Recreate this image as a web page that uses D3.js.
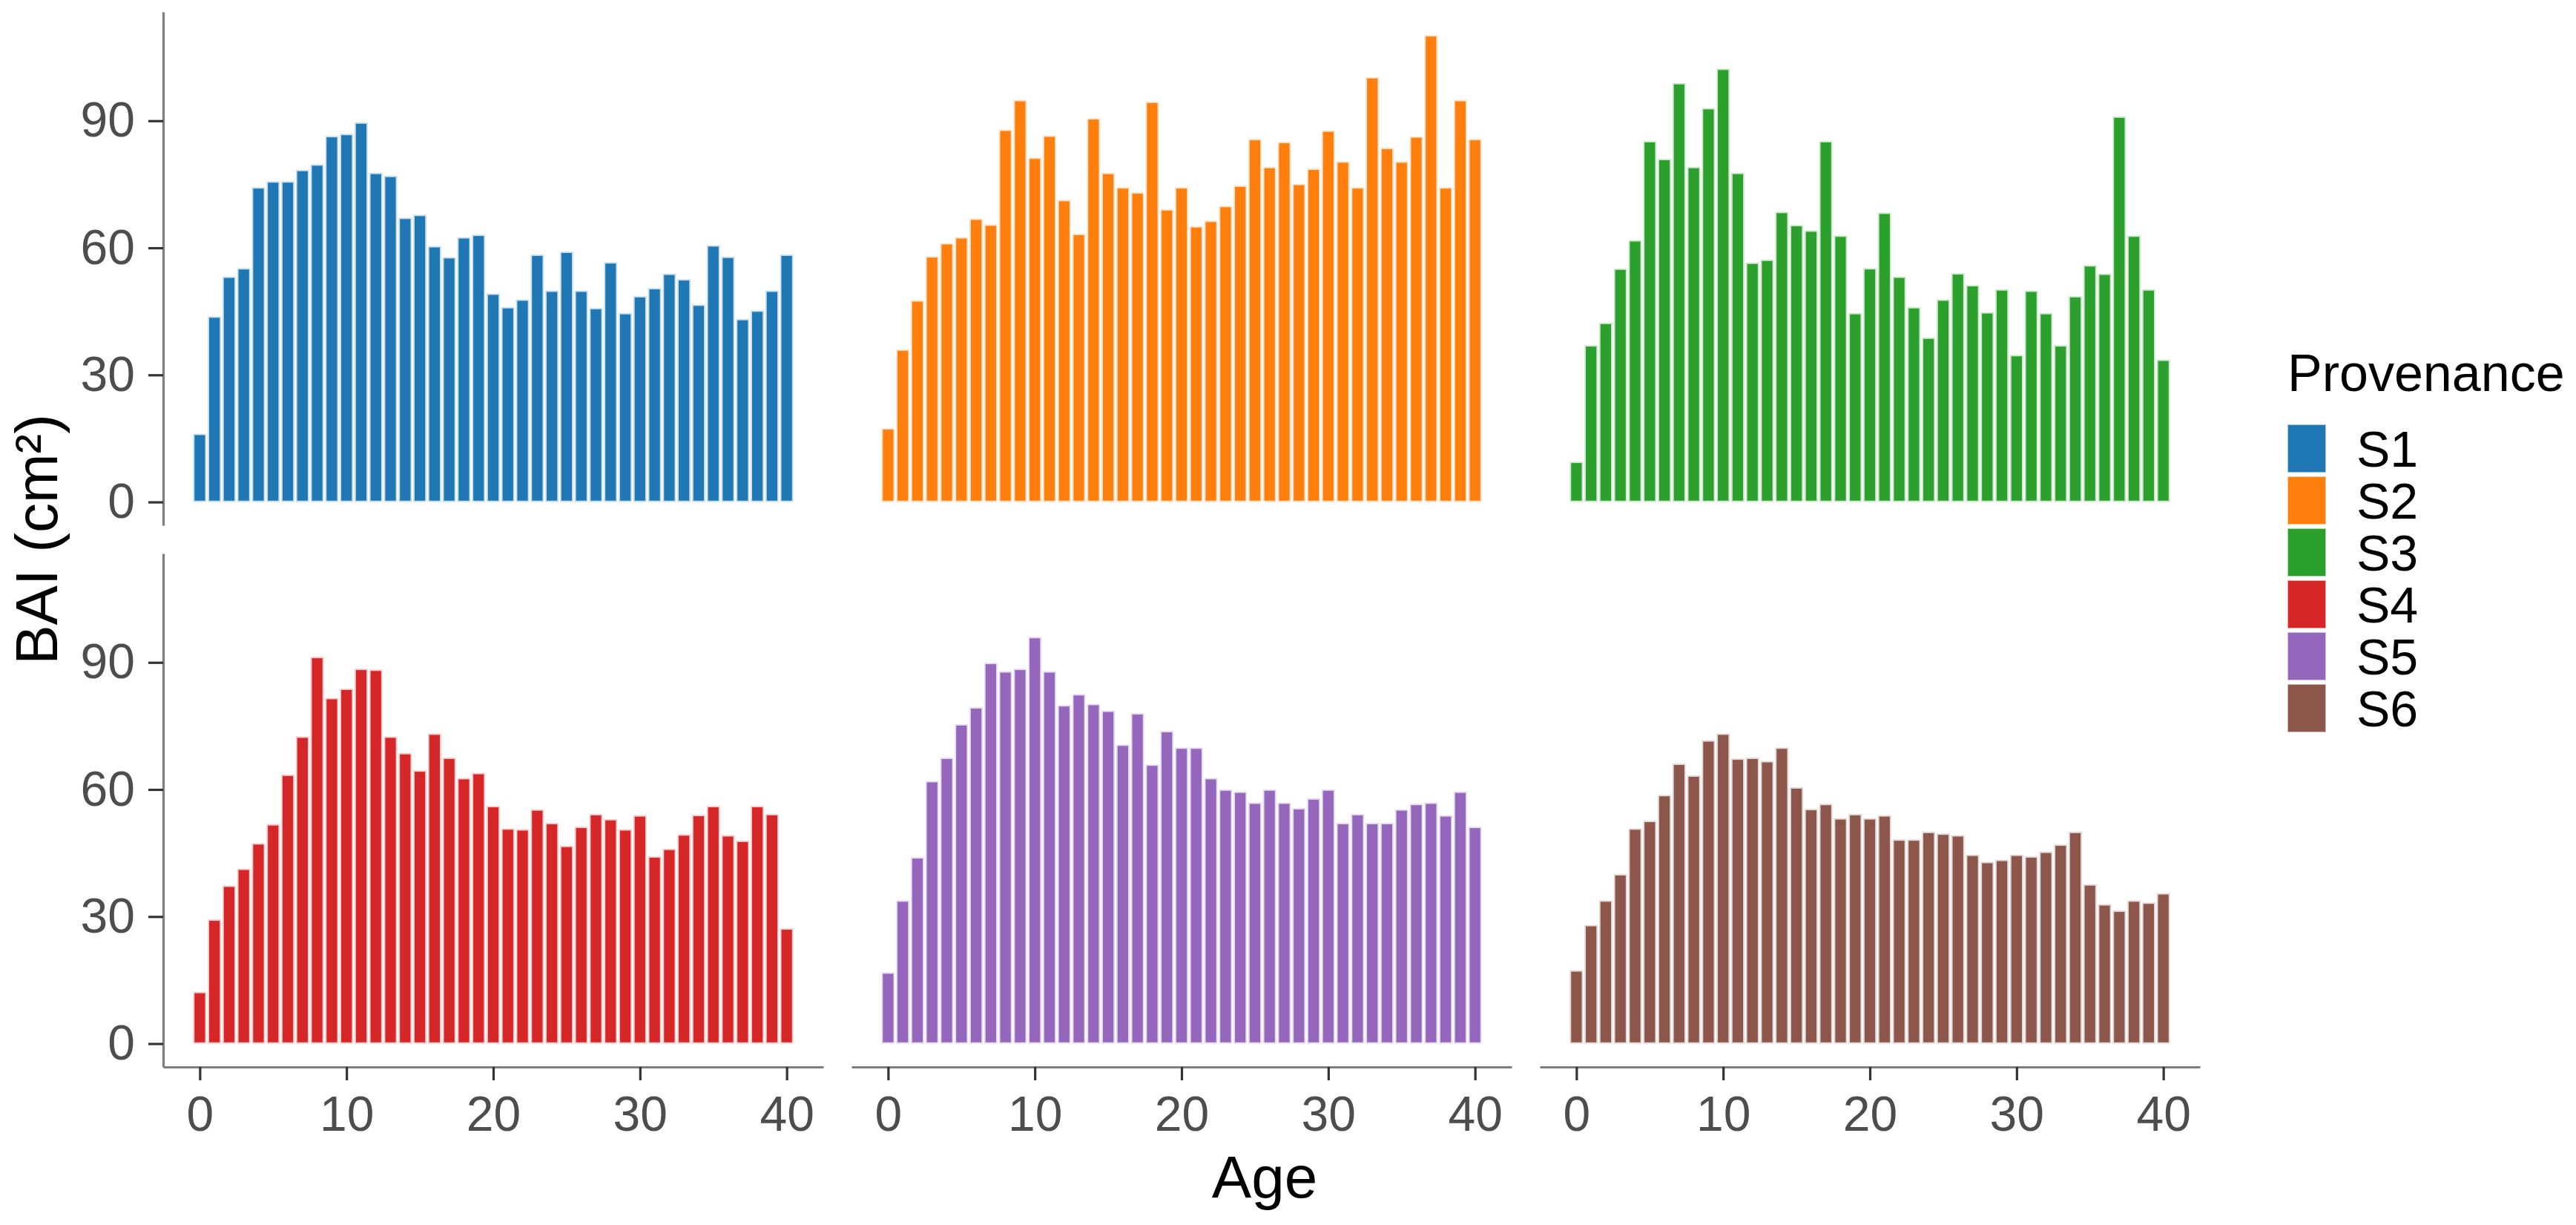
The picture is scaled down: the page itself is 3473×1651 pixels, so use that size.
<!DOCTYPE html>
<html>
<head>
<meta charset="utf-8">
<script src="https://cdn.jsdelivr.net/npm/d3@7"></script>
<style>
  body { margin: 0; background: #fff; }
  text { font-family: "Liberation Sans", Arial, sans-serif; }
</style>
</head>
<body>
<div id="chart"></div>
<script>
var ages = [0, 1, 2, 3, 4, 5, 6, 7, 8, 9, 10, 11, 12, 13, 14, 15, 16, 17, 18, 19, 20,
  21, 22, 23, 24, 25, 26, 27, 28, 29, 30, 31, 32, 33, 34, 35, 36, 37, 38, 39, 40];

var provenances = ["S1", "S2", "S3", "S4", "S5", "S6"];
var colors = ["#1f77b4", "#ff7f0e", "#2ca02c", "#d62728", "#9467bd", "#8c564b"];

var s1 = [16.1, 43.8, 53.2, 55.2, 74.3, 75.7, 75.7, 78.4, 79.7, 86.4, 86.9, 89.6, 77.7, 77.0, 67.1, 67.8, 60.4, 57.8, 62.5, 63.1, 49.2,
  46.0, 47.8, 58.4, 49.9, 59.1, 49.9, 45.8, 56.6, 44.6, 48.6, 50.5, 53.9, 52.6, 46.6, 60.6, 57.9, 43.2, 45.2, 49.9, 58.4];
var s2 = [17.4, 36.0, 47.6, 58.0, 61.1, 62.5, 66.9, 65.5, 87.9, 94.9, 81.3, 86.5, 71.3, 63.3, 90.6, 77.7, 74.3, 73.1, 94.5, 69.1, 74.3,
  65.1, 66.4, 69.9, 74.7, 85.7, 79.1, 85.0, 75.1, 78.7, 87.7, 80.4, 74.3, 100.3, 83.6, 80.4, 86.3, 110.2, 74.3, 94.9, 85.7];
var s3 = [9.5, 37.0, 42.3, 55.1, 61.8, 85.2, 81.0, 98.9, 79.1, 93.0, 102.3, 77.7, 56.5, 57.2, 68.5, 65.4, 64.1, 85.2, 62.9, 44.6, 55.2,
  68.3, 53.2, 46.0, 38.8, 47.8, 54.0, 51.2, 44.8, 50.2, 34.7, 49.9, 44.6, 37.0, 48.6, 55.9, 53.9, 91.0, 62.9, 50.2, 33.6];
var s4 = [12.2, 29.3, 37.3, 41.3, 47.3, 51.8, 63.5, 72.5, 91.3, 81.6, 83.8, 88.5, 88.3, 72.5, 68.6, 64.5, 73.2, 67.5, 62.7, 63.9, 56.1,
  50.8, 50.6, 55.3, 52.1, 46.7, 51.2, 54.2, 53.0, 50.6, 53.9, 44.2, 46.0, 49.4, 54.0, 56.1, 49.2, 47.9, 56.1, 54.2, 27.2];
var s5 = [16.8, 33.8, 44.0, 62.0, 67.5, 75.4, 79.4, 89.9, 87.9, 88.5, 96.0, 87.9, 79.9, 82.5, 80.2, 78.6, 70.6, 78.0, 65.9, 73.8, 69.9,
  69.9, 62.7, 60.0, 59.5, 56.9, 60.0, 56.9, 55.6, 57.9, 60.0, 52.1, 54.2, 52.1, 52.1, 55.3, 56.6, 56.9, 53.9, 59.5, 51.2];
var s6 = [17.3, 28.0, 33.8, 40.0, 50.8, 52.6, 58.7, 66.1, 63.3, 71.6, 73.2, 67.3, 67.5, 66.7, 69.9, 60.5, 55.4, 56.6, 53.2, 54.2, 53.2,
  53.9, 48.2, 48.2, 50.0, 49.6, 49.2, 44.6, 42.9, 43.4, 44.6, 44.2, 45.3, 47.0, 50.0, 37.6, 32.9, 31.4, 33.8, 33.3, 35.5];

var series = [s1, s2, s3, s4, s5, s6];
var yTicks = [0, 30, 60, 90];
var xTicks = [0, 10, 20, 30, 40];

var svgWidth = 3473;
var svgHeight = 1651;
var panelLeft = [220, 1148, 2076];
var panelTop = [16, 746];
var panelW = 890;
var panelH = 692;

var svg = d3.select("#chart")
  .append("svg")
  .attr("width", svgWidth)
  .attr("height", svgHeight);

// shared scales (facet_wrap with fixed scales)
var yMax = d3.max(series, function(s) { return d3.max(s); });
var yPad = yMax * 0.05;
var yScale = d3.scaleLinear().domain([-yPad, yMax + yPad]).range([panelH, 0]);
var xPad = (40.9) * 0.05;
var xScale = d3.scaleLinear().domain([-0.45 - xPad, 40.45 + xPad]).range([0, panelW]);
var barW = xScale(0.9) - xScale(0);

series.forEach(function(vals, i) {
  var row = Math.floor(i / 3);
  var col = i % 3;
  var g = svg.append("g")
    .attr("transform", `translate(${panelLeft[col]}, ${panelTop[row]})`);

  g.selectAll("rect")
    .data(vals)
    .enter()
    .append("rect")
    .attr("x", function(d, j) { return xScale(ages[j] - 0.45); })
    .attr("width", barW)
    .attr("y", function(d) { return yScale(d); })
    .attr("height", function(d) { return yScale(0) - yScale(d); })
    .attr("fill", colors[i])
    .attr("stroke", "#fff")
    .attr("stroke-opacity", 0.75)
    .attr("stroke-width", 3.6);

  if (col === 0) {
    var ya = g.append("g")
      .call(d3.axisLeft(yScale).tickValues(yTicks).tickSize(20).tickSizeOuter(0).tickPadding(18));
    ya.select(".domain").attr("stroke", "#7f7f7f").attr("stroke-width", 3.2);
    ya.selectAll(".tick line").attr("stroke", "#333").attr("stroke-width", 3.2);
    ya.selectAll(".tick text").attr("fill", "#4d4d4d").style("font-size", "66px")
      .style("font-family", "'Liberation Sans', Arial, sans-serif");
  }

  if (row === 1) {
    var xa = g.append("g")
      .attr("transform", `translate(0, ${panelH})`)
      .call(d3.axisBottom(xScale).tickValues(xTicks).tickSize(18).tickSizeOuter(0).tickPadding(21));
    xa.select(".domain").attr("stroke", "#7f7f7f").attr("stroke-width", 3.2);
    xa.selectAll(".tick line").attr("stroke", "#333").attr("stroke-width", 3.2);
    xa.selectAll(".tick text").attr("fill", "#4d4d4d").style("font-size", "66px")
      .style("font-family", "'Liberation Sans', Arial, sans-serif");
  }
});

// axis titles
svg.append("text")
  .attr("transform", `translate(77, ${(panelTop[0] + panelTop[1] + panelH) / 2}) rotate(-90)`)
  .attr("text-anchor", "middle")
  .style("font-size", "80px")
  .attr("fill", "#000")
  .text("BAI (cm²)");

svg.append("text")
  .attr("x", 1705)
  .attr("y", 1614)
  .attr("text-anchor", "middle")
  .style("font-size", "80px")
  .attr("fill", "#000")
  .text("Age");

// legend
var legend = svg.append("g").attr("transform", "translate(3084, 0)");

legend.append("text")
  .attr("x", 0)
  .attr("y", 527)
  .style("font-size", "70px")
  .attr("fill", "#000")
  .text("Provenance");

var keys = legend.selectAll("g.key")
  .data(provenances)
  .enter()
  .append("g")
  .attr("class", "key")
  .attr("transform", function(d, j) { return `translate(0, ${572 + j * 70})`; });

keys.append("rect")
  .attr("width", 52)
  .attr("height", 65)
  .attr("fill", function(d, j) { return colors[j]; })
  .attr("stroke", "#fff")
  .attr("stroke-opacity", 0.6)
  .attr("stroke-width", 2);

keys.append("text")
  .attr("x", 93)
  .attr("y", 32.5)
  .attr("dy", "0.36em")
  .style("font-size", "68px")
  .attr("fill", "#000")
  .text(function(d) { return d; });
</script>
</body>
</html>
